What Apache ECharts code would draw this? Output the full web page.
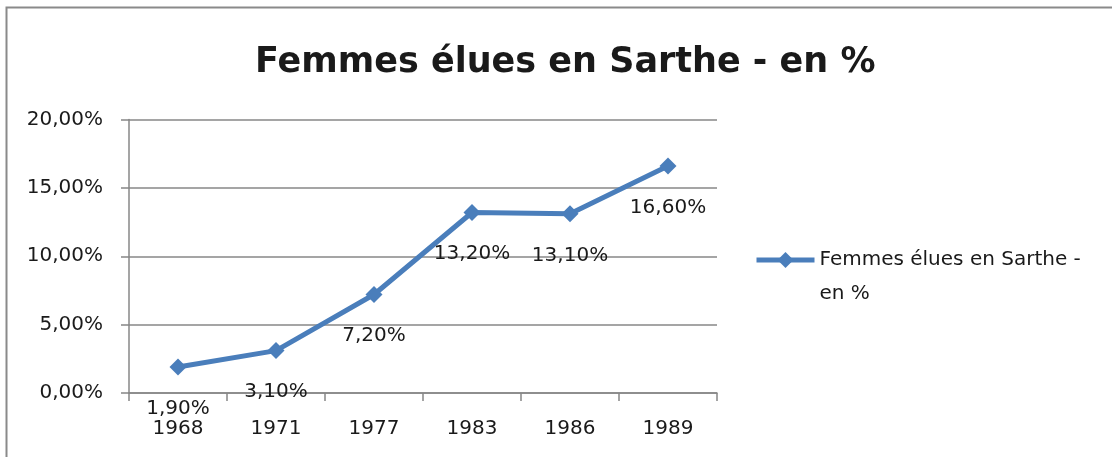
<!DOCTYPE html>
<html>
<head>
<meta charset="utf-8">
<script src="https://cdn.jsdelivr.net/npm/echarts@6/dist/echarts.min.js"></script>
<style>
  html, body { margin: 0; padding: 0; background: #fff; }
  #chart { width: 1112px; height: 457px; }
</style>
</head>
<body>
<div id="chart"></div>
<script>
// données
const years = ['1968', '1971', '1977', '1983', '1986', '1989']
const values = [1.9, 3.1, 7.2, 13.2, 13.1, 16.6]
const yTicks = [0, 5, 10, 15, 20]

const seriesName = 'Femmes élues en Sarthe - en %'
const blue = '#4a7ebb'
const gray = '#878787'
const font = 'DejaVu Sans'

// format français : 13,20%
const pct = v => v.toFixed(2).replace('.', ',') + '%'

const chart = echarts.init(document.getElementById('chart'))

chart.setOption({
  animation: false,
  title: {
    text: 'Femmes élues en Sarthe - en %',
    left: 250,
    top: 40,
    textStyle: { fontFamily: font, fontSize: 35, fontWeight: 'bold', color: '#1a1a1a' }
  },
  legend: {
    left: 754,
    top: 209,
    padding: 0,
    itemWidth: 58,
    itemHeight: 20,
    lineStyle: { width: 5 },
    // ligne vide en tête pour aligner le symbole sur la première ligne
    formatter: () => ' \nFemmes élues en Sarthe -\nen %',
    textStyle: { fontFamily: font, fontSize: 20, color: '#1a1a1a', lineHeight: 34 }
  },
  grid: { left: 129, right: 395, top: 119.5, bottom: 64 },
  xAxis: {
    type: 'category',
    data: years,
    boundaryGap: true,
    axisLine: { lineStyle: { color: gray, width: 1.5 } },
    axisTick: { show: true, length: 8, lineStyle: { color: gray, width: 1.5 } },
    axisLabel: { fontFamily: font, fontSize: 20, color: '#1a1a1a', margin: 26 }
  },
  yAxis: {
    type: 'value',
    min: yTicks[0],
    max: yTicks[yTicks.length - 1],
    interval: 5,
    axisLine: { show: true, lineStyle: { color: gray, width: 1.5 } },
    axisTick: { show: true, length: 8, lineStyle: { color: gray, width: 1.5 } },
    splitLine: { lineStyle: { color: gray, width: 1.5 } },
    axisLabel: { fontFamily: font, fontSize: 20, color: '#1a1a1a', margin: 26, formatter: v => pct(v) }
  },
  series: [
    {
      name: seriesName,
      type: 'line',
      data: values,
      symbol: 'diamond',
      symbolSize: [17, 17],
      itemStyle: { color: blue },
      lineStyle: { color: blue, width: 5 },
      label: {
        show: true,
        position: 'bottom',
        distance: 23,
        fontFamily: font,
        fontSize: 20,
        color: '#1a1a1a',
        formatter: p => pct(p.value)
      }
    }
  ],
  graphic: [
    {
      type: 'rect',
      shape: { x: 6.5, y: 7.5, width: 1300, height: 600 },
      style: { fill: 'none', stroke: '#8a8a8a', lineWidth: 2 },
      silent: true
    }
  ]
})
</script>
</body>
</html>
